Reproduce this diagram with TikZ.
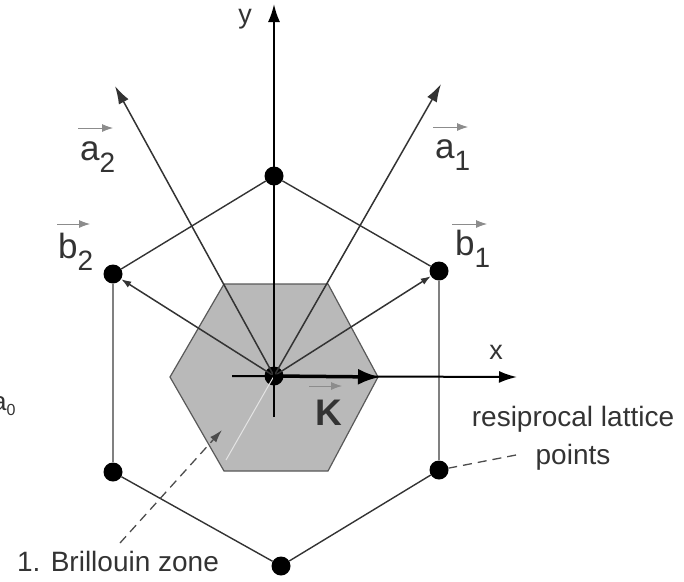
\documentclass[tikz,border=0pt]{standalone}
\usepackage{fontspec}
\setmainfont{Liberation Sans}
\usetikzlibrary{arrows.meta,calc}
\begin{document}
\begin{tikzpicture}[x=1pt,y=-1pt,
 dot/.style={circle,fill=black,inner sep=0pt,minimum size=19pt},
 edge/.style={draw=black!80,line width=1.4pt},
 vedge/.style={draw=black!50,line width=1.4pt},
 vecarrow/.style={draw=black!80,line width=1.5pt,-{Latex[length=18pt,width=11pt]}},
 barrow/.style={draw=black!80,line width=1.5pt,-{Latex[length=10pt,width=7pt]}},
 axis/.style={draw=black,line width=2pt,-{Latex[length=18pt,width=12pt]}},
 lbl/.style={text=black!80,inner sep=0pt},
 big/.style={font=\fontsize{35}{40}\selectfont},
 ovarrow/.style={draw=black!45,line width=0.8pt,-{Latex[length=11pt,width=8pt]}},
 note/.style={text=black!80,font=\fontsize{28}{38}\selectfont,inner sep=0pt},
 pointer/.style={draw=black!70,dashed,dash pattern=on 9pt off 6pt,line width=1.3pt},
]
\useasboundingbox (0,0) rectangle (684,581);

% Brillouin zone
\filldraw[fill=gray!55,draw=black!65,line width=1.2pt]
  (170,377) -- (224,284) -- (328,284) -- (378,377) -- (328,471) -- (224,471) -- cycle;

% lattice points
\node[dot] (O) at (274,376) {};
\node[dot] (T) at (274,176) {};
\node[dot] (B1) at (439,271) {};
\node[dot] (B2) at (113,274) {};
\node[dot] (LL) at (113,472) {};
\node[dot] (LR) at (439,470) {};
\node[dot] (Bot) at (281,566) {};

% faint line
\coordinate (fe) at (226,460);
\draw[gray!20,line width=1pt] (O.center) -- (fe);

% outer hexagon
\draw[edge] (T) -- (B1);
\draw[edge] (T) -- (B2);
\draw[vedge] (B2) -- (LL);
\draw[vedge] (B1) -- (LR);
\draw[edge] (LL) -- (Bot);
\draw[edge] (Bot) -- (LR);

% real-space vectors
\coordinate (a1) at (441,84);
\coordinate (a2) at (115,86);
\draw[vecarrow] (O.center) -- (a1);
\draw[vecarrow] (O.center) -- (a2);

% reciprocal vectors
\draw[barrow] (O.center) -- (B1);
\draw[barrow] (O.center) -- (B2);

% axes
\coordinate (xs) at (232,376);
\coordinate (xe) at (517,377);
\coordinate (ys) at (274,417);
\coordinate (ye) at (274,4);
\draw[axis] (xs) -- (xe);
\draw[axis] (ys) -- (ye);
\node[lbl,font=\fontsize{27}{30}\selectfont] (xl) at (496,352) {x};
\node[lbl,font=\fontsize{27}{30}\selectfont] (yl) at (245,19) {y};

% K vector
\coordinate (kv) at (380,377);
\draw[draw=black,line width=3.5pt,-{Latex[length=22pt,width=16pt]}] (O.center) -- (kv);
\node[lbl,anchor=base west,font=\bfseries\fontsize{37}{40}\selectfont] (K) at (315,425) {K};
\draw[ovarrow] ($(K.base west)+(-6,-39)$) -- +(33,0);

% vector labels
\node[lbl,big,anchor=base west] (la1) at (435,158) {a\raisebox{-12pt}{\fontsize{28}{30}\selectfont 1}};
\draw[ovarrow] ($(la1.base west)+(-2,-31)$) -- +(35,0);
\node[lbl,big,anchor=base west] (la2) at (80,160) {a\raisebox{-12pt}{\fontsize{28}{30}\selectfont 2}};
\draw[ovarrow] ($(la2.base west)+(-2,-32)$) -- +(35,0);
\node[lbl,big,anchor=base west] (lb1) at (455,255) {b\raisebox{-12pt}{\fontsize{28}{30}\selectfont 1}};
\draw[ovarrow] ($(lb1.base west)+(-3,-31)$) -- +(35,0);
\node[lbl,big,anchor=base west] (lb2) at (58,258) {b\raisebox{-12pt}{\fontsize{28}{30}\selectfont 2}};
\draw[ovarrow] ($(lb2.base west)+(-1,-34)$) -- +(33,0);

% label at left edge (cut off in the reference as well)
\node[lbl,anchor=base west,font=\fontsize{26}{30}\selectfont] (ac) at (-8,410) {a\raisebox{-5pt}{\fontsize{16}{18}\selectfont 0}};

% annotations
\node[note] (bz) at (118,561) {1. Brillouin zone};
\coordinate (bzs) at (120,543);
\coordinate (bzt) at (222,430);
\draw[pointer,-{Latex[length=13pt,width=8pt]}] (bzs) -- (bzt);

\node[note,align=center] (rlp) at (573,438) {resiprocal lattice\\points};
\coordinate (rlps) at (516,455);
\draw[pointer] (rlps) -- (LR);
\end{tikzpicture}
\end{document}
